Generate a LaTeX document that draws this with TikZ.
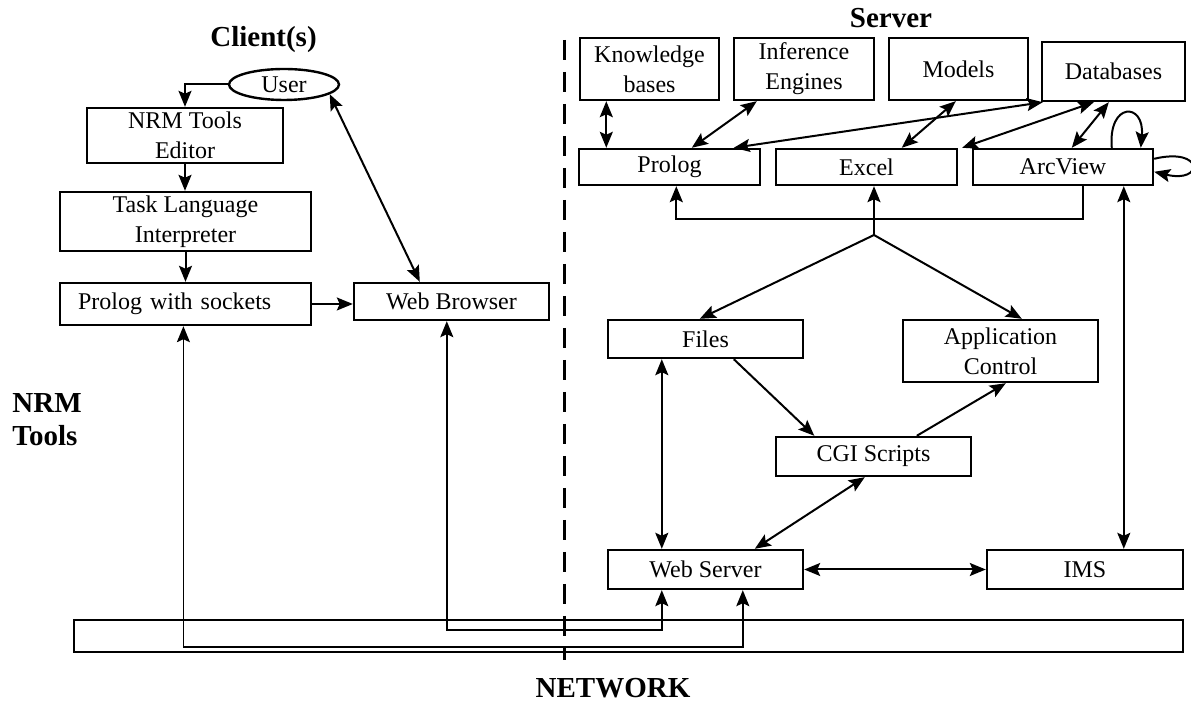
\documentclass[tikz,border=0pt]{standalone}
\usepackage{fontspec}
\setmainfont{Liberation Serif}
\usetikzlibrary{arrows.meta,calc,shapes.geometric}
\begin{document}
\begin{tikzpicture}[x=0.5pt,y=-0.5pt,
  >={Stealth[length=8pt,width=6.5pt,inset=1.5pt]},
  box/.style={draw,line width=1.2pt,inner sep=0pt,align=center,font=\fontsize{12}{15}\selectfont},
  conn/.style={line width=1pt,->},
  bi/.style={line width=1pt,<->},
  wire/.style={line width=0.85pt},
  title/.style={inner sep=0pt,font=\fontsize{14.5}{16}\selectfont\bfseries}]
\useasboundingbox (0,0) rectangle (1191,704);

% titles
\node[title,anchor=base] (client) at (263.5,47) {Client(s)};
\node[title,anchor=base] (server) at (891,28) {Server};
\node[title,anchor=base west] (nrm1) at (12,413) {NRM};
\node[title,anchor=base west] (nrm2) at (12,446) {Tools};
\node[title,anchor=base] (network) at (613,698) {NETWORK};

% client side
\node[draw,ellipse,line width=1.2pt,minimum width=55pt,minimum height=15.5pt,inner sep=0pt,font=\fontsize{12}{15}\selectfont] (user) at (284,84.5) {User};
\node[box,minimum width=98pt,minimum height=27.5pt] (ed) at (185,135.5) {NRM Tools\\Editor};
\node[box,minimum width=125.5pt,minimum height=29.5pt] (tli) at (185.5,221.5) {Task Language\\Interpreter};
\node[box,minimum width=125.5pt,minimum height=21pt,inner xsep=9pt,text width=107.5pt,align=left] (pws) at (185.5,304) {Prolog with sockets};
\node[box,minimum width=97.5pt,minimum height=18.5pt] (wb) at (451.5,301.5) {Web Browser};

% server side
\node[box,minimum width=69.5pt,minimum height=31pt] (kb) at (649.5,69) {Knowledge\\bases};
\node[box,minimum width=70pt,minimum height=31pt] (ie) at (804,69) {Inference\\Engines};
\node[box,minimum width=69.5pt,minimum height=31pt] (mo) at (958.5,69) {Models};
\node[box,minimum width=71.5pt,minimum height=29.5pt] (db) at (1113.5,71.5) {Databases};
\node[box,minimum width=90.5pt,minimum height=18pt] (pl) at (669.5,167) {Prolog};
\node[box,minimum width=90.5pt,minimum height=18pt] (ex) at (866.5,167) {Excel};
\node[box,minimum width=90pt,minimum height=18pt] (av) at (1063,167) {ArcView};
\node[box,minimum width=97.5pt,minimum height=19pt] (fi) at (705.5,339) {Files};
\node[box,minimum width=97.5pt,minimum height=31pt] (ac) at (1000.5,351) {Application\\Control};
\node[box,minimum width=97.5pt,minimum height=19.5pt] (cgi) at (873.5,456.5) {CGI Scripts};
\node[box,minimum width=97.5pt,minimum height=19.5pt] (ws) at (705.5,569.5) {Web Server};
\node[box,minimum width=98pt,minimum height=19.5pt] (ims) at (1085,569.5) {IMS};
\node[draw,line width=1.2pt,minimum width=554.5pt,minimum height=16pt,inner sep=0pt] (net) at (628.5,636) {};

% dashed separator
\coordinate (d1) at (564,40);
\coordinate (d2) at (564,660);
\draw[line width=1.5pt,dash pattern=on 10pt off 6pt] (d1) -- (d2);

% client connectors
\draw[conn] (user.west) -| (ed.north);
\draw[conn] (ed.south) -- (ed.south |- tli.north);
\draw[conn] (tli.south) -- (tli.south |- pws.north);
\draw[conn] (pws.east) -- (pws.east -| wb.west);
\coordinate (wbtop) at ($(wb.north west)+(67,0)$);
\draw[bi] (user.-12) -- (wbtop);

% server connectors (top)
\coordinate (k1) at ($(kb.south west)+(27.5,0)$);
\draw[bi] (k1) -- (k1 |- pl.north);
\draw[bi] ($(ie.south west)+(24,0)$) -- ($(pl.north west)+(114,0)$);
\draw[bi] ($(db.south west)+(2,0)$) -- ($(pl.north west)+(156,0)$);
\draw[bi] ($(mo.south west)+(68,0)$) -- ($(ex.north west)+(127,0)$);
\draw[bi] ($(db.south west)+(53,0)$) -- ($(ex.north east)+(4,0)$);
\draw[bi] ($(db.south west)+(68,0)$) -- ($(av.north west)+(100,0)$);
\draw[conn] ($(av.north west)+(140,0)$) .. controls +(-4,-46) and +(4,-46) .. ($(av.north west)+(169,0)$);
\draw[conn] ($(av.north east)+(0,11)$) .. controls +(50,-12) and +(50,12) .. ($(av.north east)+(0,24)$);

% bus
\coordinate (avb) at ($(av.south west)+(111,0)$);
\coordinate (plb) at ($(pl.south west)+(98.5,0)$);
\coordinate (bus) at (0,219);
\draw[conn] (avb) -- (avb |- bus) -| (plb);
\coordinate (J) at (874,235);
\draw[conn] (J) -- (J |- ex.south);
\draw[conn] (J) -- ($(fi.north west)+(93,0)$);
\draw[conn] (J) -- ($(ac.north west)+(120,0)$);

% middle
\draw[conn] ($(fi.south west)+(127,0)$) -- ($(cgi.north west)+(39.5,0)$);
\draw[conn] ($(cgi.north west)+(142,0)$) -- ($(ac.south west)+(104,0)$);
\draw[bi] ($(cgi.south west)+(90,0)$) -- ($(ws.north west)+(148,0)$);
\coordinate (f1) at ($(fi.south west)+(55,0)$);
\draw[bi] (f1) -- (f1 |- ws.north);
\draw[bi] (ws.east) -- (ims.west);
\coordinate (a1) at ($(av.south west)+(152,0)$);
\draw[wire,<->] (a1) -- (a1 |- ims.north);

% network wires
\coordinate (wbd) at ($(wb.south west)+(94,0)$);
\coordinate (r1) at (0,630);
\draw[wire,<->] (wbd) -- (wbd |- r1) -| ($(ws.south west)+(55,0)$);
\coordinate (pwd) at ($(pws.south west)+(124.6,0)$);
\coordinate (r2) at (0,647);
\draw[wire,<->] (pwd) -- (pwd |- r2) -| ($(ws.south west)+(136,0)$);
\end{tikzpicture}
\end{document}
